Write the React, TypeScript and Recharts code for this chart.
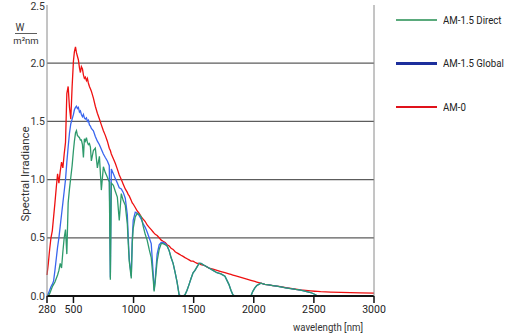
import { LineChart, Line, XAxis, YAxis, ReferenceLine } from 'recharts';

// wavelength grid in nm
const wavelengths = [
    280, 291, 302, 313, 324, 335, 346, 357, 368, 379, 390, 401, 412, 423, 434, 445, 456, 467, 478, 489,
    500, 508, 517, 525, 533, 541, 550, 558, 566, 575, 583, 591, 599, 608, 616, 624, 633, 641, 649,
    666, 682, 699, 716, 732, 749, 765, 782, 798, 807, 815, 832, 848, 865, 881, 898, 914, 931, 948, 956,
    964, 981, 989, 997, 1014, 1031, 1047, 1064, 1080, 1097, 1113, 1130, 1147, 1163, 1171, 1180, 1196,
    1213, 1230, 1246, 1263, 1279, 1296, 1312, 1329, 1346, 1362, 1379, 1395, 1412, 1428, 1445, 1462,
    1478, 1495, 1511, 1528, 1545, 1561, 1594, 1627, 1661, 1694, 1727, 1760, 1793, 1810, 1826, 1843,
    1893, 1942, 1976, 1992, 2009, 2025, 2042, 2059, 2092, 2125, 2158, 2191, 2224, 2266, 2307, 2349,
    2390, 2432, 2473, 2506, 2531, 2556, 2639, 2722, 2805, 2887, 3000,
];

// W / (m² nm)
const am0 = [
    0.18, 0.28, 0.4, 0.5, 0.56, 0.68, 0.8, 0.93, 1.05, 0.97, 1.07, 1.15, 1.1, 1.22, 1.32, 1.74, 1.8, 1.62, 1.52, 1.8,
    2.02, 2.1, 2.14, 2.09, 2.06, 2.03, 1.96, 1.92, 1.97, 1.95, 1.9, 1.87, 1.88, 1.85, 1.87, 1.83, 1.8, 1.78, 1.76,
    1.7, 1.63, 1.57, 1.52, 1.47, 1.42, 1.38, 1.33, 1.27, 1.25, 1.22, 1.18, 1.14, 1.09, 1.04, 1.0, 0.96, 0.92, 0.89, 0.87,
    0.86, 0.82, 0.8, 0.79, 0.76, 0.73, 0.71, 0.68, 0.66, 0.64, 0.61, 0.59, 0.57, 0.55, 0.54, 0.53, 0.52,
    0.5, 0.48, 0.47, 0.46, 0.44, 0.43, 0.41, 0.4, 0.38, 0.37, 0.36, 0.35, 0.34, 0.33, 0.32, 0.31,
    0.3, 0.3, 0.29, 0.28, 0.28, 0.27, 0.26, 0.24, 0.23, 0.22, 0.21, 0.2, 0.19, 0.185, 0.18, 0.175,
    0.16, 0.145, 0.135, 0.13, 0.125, 0.12, 0.115, 0.11, 0.1, 0.095, 0.09, 0.085, 0.08, 0.072, 0.065, 0.058,
    0.052, 0.048, 0.044, 0.041, 0.039, 0.037, 0.034, 0.031, 0.029, 0.027, 0.025,
];

const global15 = [
    0, 0.02, 0.05, 0.08, 0.1, 0.13, 0.22, 0.32, 0.42, 0.5, 0.6, 0.7, 0.8, 0.9, 1.0, 1.15, 1.28, 1.4, 1.48, 1.52,
    1.56, 1.6, 1.62, 1.63, 1.61, 1.62, 1.58, 1.59, 1.56, 1.54, 1.56, 1.53, 1.52, 1.53, 1.5, 1.51, 1.47, 1.46, 1.44,
    1.42, 1.37, 1.33, 1.3, 1.26, 1.22, 1.19, 1.16, 1.12, 0.16, 1.09, 1.05, 1.01, 0.97, 0.93, 0.92, 0.89, 0.84, 0.7, 0.5,
    0.32, 0.17, 0.48, 0.65, 0.72, 0.71, 0.69, 0.66, 0.62, 0.59, 0.55, 0.5, 0.45, 0.2, 0.05, 0.14, 0.36,
    0.44, 0.46, 0.46, 0.45, 0.43, 0.39, 0.33, 0.28, 0.2, 0.12, 0.01, 0, 0, 0.01, 0.05, 0.1,
    0.15, 0.2, 0.22, 0.25, 0.28, 0.28, 0.26, 0.24, 0.22, 0.2, 0.19, 0.17, 0.1, 0.05, 0.01, 0,
    0, 0, 0, 0.04, 0.07, 0.09, 0.1, 0.11, 0.1, 0.095, 0.09, 0.085, 0.078, 0.07, 0.064, 0.056,
    0.05, 0.04, 0.03, 0.015, 0, 0, 0, 0, 0, 0, 0,
];

const direct15 = [
    0, 0, 0.02, 0.05, 0.08, 0.1, 0.12, 0.15, 0.18, 0.22, 0.28, 0.24, 0.38, 0.5, 0.57, 0.36, 0.8, 0.92, 1.02, 1.12,
    1.25, 1.33, 1.4, 1.42, 1.38, 1.37, 1.36, 1.34, 1.34, 1.3, 1.19, 1.35, 1.33, 1.36, 1.32, 1.3, 1.31, 1.28, 1.16,
    1.25, 1.27, 1.1, 1.2, 0.91, 1.11, 1.06, 1.02, 0.98, 0.14, 0.97, 0.95, 0.9, 0.85, 0.65, 0.88, 0.82, 0.78, 0.62, 0.45,
    0.3, 0.15, 0.45, 0.58, 0.68, 0.71, 0.7, 0.68, 0.6, 0.53, 0.48, 0.4, 0.33, 0.15, 0.04, 0.12, 0.3,
    0.4, 0.45, 0.45, 0.44, 0.43, 0.39, 0.33, 0.28, 0.2, 0.12, 0.01, 0, 0, 0.01, 0.05, 0.1,
    0.15, 0.2, 0.22, 0.25, 0.28, 0.28, 0.26, 0.24, 0.22, 0.2, 0.19, 0.17, 0.1, 0.05, 0.01, 0,
    0, 0, 0, 0.04, 0.07, 0.09, 0.1, 0.11, 0.1, 0.095, 0.09, 0.085, 0.078, 0.07, 0.064, 0.056,
    0.05, 0.04, 0.03, 0.015, 0, 0, 0, 0, 0, 0, 0,
];

const xTicks = [280, 500, 1000, 1500, 2000, 2500, 3000];
const yTicks = [0, 0.5, 1, 1.5, 2, 2.5];
const gridValues = [0.5, 1, 1.5, 2];

const legendItems = [
    { name: 'AM-1.5 Direct', color: '#5aaa7c' },
    { name: 'AM-1.5 Global', color: '#1d2f9c' },
    { name: 'AM-0', color: '#e0121b' },
];

const data = wavelengths.map((wl, i) => ({
    wl,
    am0: am0[i],
    global: global15[i],
    direct: direct15[i],
}));

const FONT = "Roboto, 'Liberation Sans', sans-serif";

// top label sits on the chart edge, keep it readable
const YTick = (props: any) => {
    const { x, y, payload, textAnchor } = props;
    return (
        <text x={x} y={Math.max(y, 6)} textAnchor={textAnchor} dominantBaseline="central" fontSize={10.5} fill="#333" fontFamily={FONT}>
            {Number(payload.value).toFixed(1)}
        </text>
    );
};

const YTitle = () => (
    <g fontFamily={FONT} fill="#333">
        <text x={20} y={31} fontSize={10} textAnchor="middle">W</text>
        <line x1={15} x2={37} y1={33.5} y2={33.5} stroke="#333" strokeWidth={0.8} />
        <text x={26} y={44} fontSize={9.5} textAnchor="middle">m²nm</text>
        <text
            x={26}
            y={174}
            fontSize={10.5}
            textAnchor="middle"
            dominantBaseline="middle"
            textLength={95}
            lengthAdjust="spacingAndGlyphs"
            transform="rotate(-90 26 174)"
        >
            Spectral Irradiance
        </text>
    </g>
);

const XTitle = () => (
    <text x={363} y={331} fontSize={11} textAnchor="end" fontFamily={FONT} fill="#333" textLength={70} lengthAdjust="spacingAndGlyphs">
        wavelength [nm]
    </text>
);

const App = () => {
    return (
        <div style={{ position: 'absolute', left: 0, top: 0, width: 506, height: 334, fontFamily: FONT, background: '#fff' }}>
            <LineChart width={506} height={334} data={data} margin={{ top: 5, right: 102, bottom: 0, left: 0 }}>
                {gridValues.map((v) => (
                    <ReferenceLine key={v} y={v} yAxisId="left" stroke="#5c5c5c" strokeWidth={1.3} />
                ))}
                <XAxis
                    dataKey="wl"
                    type="number"
                    domain={[280, 3000]}
                    ticks={xTicks}
                    interval={0}
                    height={38}
                    tickSize={7}
                    tickMargin={3}
                    tick={{ fontSize: 10.5, fill: '#222', fontFamily: FONT }}
                    tickLine={{ stroke: '#111', strokeWidth: 1.5 }}
                    axisLine={{ stroke: '#111', strokeWidth: 2 }}
                    label={<XTitle />}
                />
                <YAxis
                    yAxisId="left"
                    domain={[0, 2.5]}
                    ticks={yTicks}
                    interval={0}
                    width={47}
                    tickLine={false}
                    tickSize={0}
                    tickMargin={2}
                    tick={<YTick />}
                    axisLine={{ stroke: '#8a8a8a', strokeWidth: 1 }}
                    label={<YTitle />}
                />
                <YAxis
                    yAxisId="right"
                    orientation="right"
                    domain={[0, 2.5]}
                    ticks={yTicks}
                    interval={0}
                    width={30}
                    tickLine={false}
                    tickSize={0}
                    tickMargin={2}
                    tick={<YTick />}
                    axisLine={{ stroke: '#8a8a8a', strokeWidth: 1 }}
                />
                <Line yAxisId="left" type="linear" dataKey="am0" stroke="#ee1111" strokeWidth={1.3} dot={false} isAnimationActive={false} />
                <Line yAxisId="left" type="linear" dataKey="global" stroke="#3a66ee" strokeWidth={1.3} dot={false} isAnimationActive={false} />
                <Line yAxisId="left" type="linear" dataKey="direct" stroke="#2e9a6c" strokeWidth={1.3} dot={false} isAnimationActive={false} />
            </LineChart>
            {legendItems.map((item, i) => (
                <div
                    key={item.name}
                    style={{
                        position: 'absolute',
                        left: 396,
                        top: 13 + i * 43.5,
                        height: 14,
                        display: 'flex',
                        alignItems: 'center',
                        fontSize: 11,
                        color: '#222',
                        whiteSpace: 'nowrap',
                    }}
                >
                    <span style={{ display: 'inline-block', width: 41, height: 2.5, background: item.color, marginRight: 6 }} />
                    <span style={{ display: 'inline-block', transform: 'scaleX(0.88)', transformOrigin: 'left center' }}>{item.name}</span>
                </div>
            ))}
        </div>
    );
};

export default App;
